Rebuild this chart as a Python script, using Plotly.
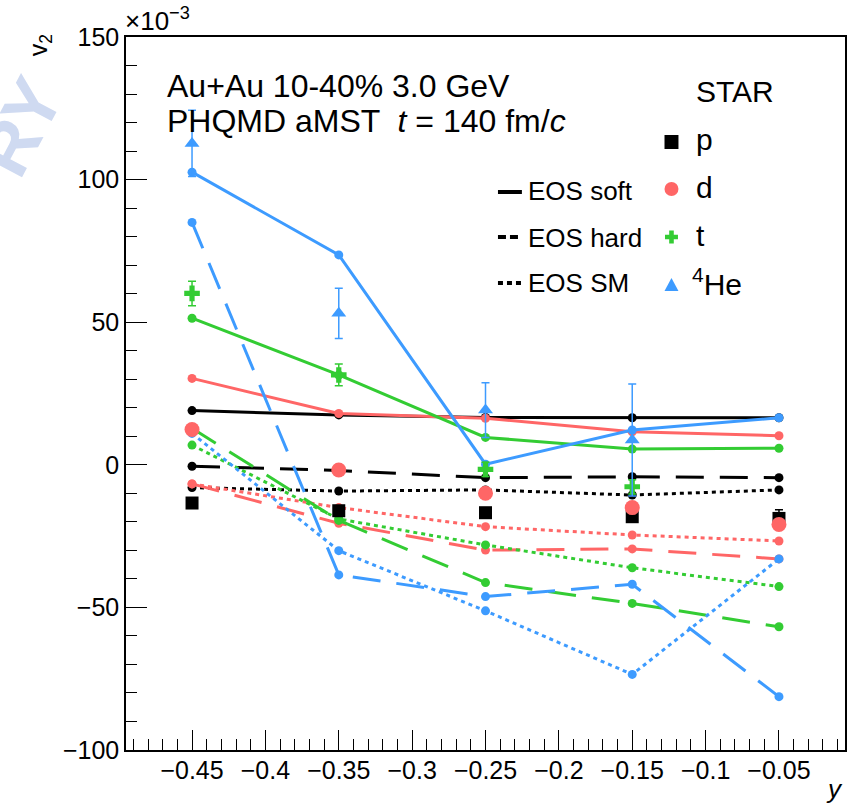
import plotly.graph_objects as go

# ---------------- data (v2 in units of 1e-3) ----------------
rap = [-0.45, -0.35, -0.25, -0.15, -0.05]

# PHQMD aMST model curves
p_soft = [19.0, 17.5, 16.6, 16.5, 16.5]
p_hard = [-0.5, -2.0, -4.5, -4.2, -4.5]
p_sm = [-8.0, -9.2, -8.8, -10.6, -8.8]
d_soft = [30.3, 18.0, 16.3, 11.6, 10.2]
d_hard = [-6.7, -20.5, -29.9, -29.5, -33.0]
d_sm = [-6.7, -15.0, -21.7, -24.6, -26.7]
t_soft = [51.4, 31.5, 9.6, 5.5, 5.8]
t_hard = [12.8, -19.5, -41.3, -48.6, -56.8]
t_sm = [6.9, -19.0, -28.1, -36.1, -42.7]
he_soft = [102.6, 73.6, 0.2, 12.2, 16.5]
he_hard = [85.0, -38.6, -46.2, -41.9, -81.3]
he_sm = [11.0, -30.1, -51.2, -73.5, -33.0]

# STAR data
star_p = [-13.4, -16.1, -16.8, -18.2, -18.8]
star_p_err = [1.0, 1.0, 1.0, 1.0, 3.0]
star_d = [12.4, -1.8, -10.0, -15.0, -20.9]
star_d_err = [1.5, 1.5, 1.5, 1.5, 1.5]
rap_t = [-0.45, -0.35, -0.25, -0.15]
star_t = [60.1, 31.5, -1.6, -7.7]
star_t_err = [4.3, 3.8, 2.5, 2.5]
rap_he = [-0.45, -0.35, -0.25, -0.15]
star_he = [112.7, 53.1, 19.2, 8.7]
star_he_err = [11.6, 8.8, 9.6, 19.6]

BLACK = "#000000"
RED = "#ff6666"
GREEN = "#33cc33"
BLUE = "#3d9bff"
FONT = "Liberation Sans, Arial, Helvetica, sans-serif"

DASHED = "28px,16px"
DOTTED = "4px,4px"

fig = go.Figure()

models = [
    (p_soft, BLACK, "solid"), (p_hard, BLACK, DASHED), (p_sm, BLACK, DOTTED),
    (d_soft, RED, "solid"), (d_hard, RED, DASHED), (d_sm, RED, DOTTED),
    (t_soft, GREEN, "solid"), (t_hard, GREEN, DASHED), (t_sm, GREEN, DOTTED),
    (he_soft, BLUE, "solid"), (he_hard, BLUE, DASHED), (he_sm, BLUE, DOTTED),
]
for vals, col, dash in models:
    fig.add_trace(go.Scatter(
        x=rap, y=vals, mode="lines+markers",
        line=dict(color=col, width=3, dash=dash),
        marker=dict(color=col, size=9, symbol="circle"),
        showlegend=False, hoverinfo="skip"))

def star(x, y, err, col, sym, size):
    fig.add_trace(go.Scatter(
        x=x, y=y, mode="markers",
        marker=dict(color=col, size=size, symbol=sym, line=dict(width=0)),
        error_y=dict(type="data", array=err, color=col, thickness=1.5, width=4),
        showlegend=False, hoverinfo="skip"))

star(rap, star_p, star_p_err, BLACK, "square", 13)
star(rap, star_d, star_d_err, RED, "circle", 15)
star(rap_t, star_t, star_t_err, GREEN, "cross", 13)
star(rap_he, star_he, star_he_err, BLUE, "triangle-up", 13)

# ---------------- layout helpers (pixel -> paper) ----------------
L, R, T, B = 126, 847, 37, 750
W, H = 852, 806
def xp(px):
    return (px - L) / (R - L)
def yp(py):
    return (B - py) / (B - T)

annotations = []
def txt(text, px, py, size, xanchor="left", yanchor="middle", angle=0, color="black", bold=False):
    annotations.append(dict(
        text=text, x=xp(px), y=yp(py), xref="paper", yref="paper",
        xanchor=xanchor, yanchor=yanchor, showarrow=False, textangle=angle,
        font=dict(family=FONT, size=size, color=color,
                  weight="bold" if bold else "normal")))

txt("Au+Au 10-40% 3.0 GeV", 165, 86, 32)
txt("PHQMD aMST  <i>t</i> = 140 fm/<i>c</i>", 165, 121, 32)
txt("STAR", 696, 92, 30)
txt("p", 696, 140, 30)
txt("d", 696, 187, 30)
txt("t", 696, 235, 30)
txt("<sup>4</sup>He", 692, 282, 30)
txt("EOS soft", 527, 191, 26)
txt("EOS hard", 527, 238, 26)
txt("EOS SM", 527, 283, 26)
txt("×10<sup>−3</sup>", 123, 38, 26, yanchor="bottom")
txt("v<sub>2</sub>", 40, 45, 25, xanchor="center", angle=-90)
txt("<i>y</i>", 847, 789, 26, xanchor="right")
txt("RY", 20, 127, 72, xanchor="center", angle=-62, color="#cfdaf1", bold=True)

shapes = []
def hline(x0, x1, y, dash):
    shapes.append(dict(type="line", xref="paper", yref="paper",
                       x0=xp(x0), x1=xp(x1), y0=yp(y), y1=yp(y),
                       line=dict(color="black", width=4, dash=dash)))
hline(499, 523, 192, "solid")
hline(499, 523, 237, "8px,4px")
hline(499, 523, 283, "5px,4px")

cx = 673
shapes.append(dict(type="rect", xref="paper", yref="paper",
                   x0=xp(cx - 7), x1=xp(cx + 7), y0=yp(142 - 7), y1=yp(142 + 7),
                   fillcolor=BLACK, line=dict(width=0)))
shapes.append(dict(type="circle", xref="paper", yref="paper",
                   x0=xp(cx - 7), x1=xp(cx + 7), y0=yp(189 - 7), y1=yp(189 + 7),
                   fillcolor=RED, line=dict(width=0)))
def path(points):
    return "M " + " L ".join(f"{xp(a):.5f},{yp(b):.5f}" for a, b in points) + " Z"
a, w, cy = 6.5, 2.3, 237
cross_pts = [(cx - w, cy - a), (cx + w, cy - a), (cx + w, cy - w), (cx + a, cy - w),
             (cx + a, cy + w), (cx + w, cy + w), (cx + w, cy + a), (cx - w, cy + a),
             (cx - w, cy + w), (cx - a, cy + w), (cx - a, cy - w), (cx - w, cy - w)]
shapes.append(dict(type="path", xref="paper", yref="paper", path=path(cross_pts),
                   fillcolor=GREEN, line=dict(width=0)))
ty = 285
shapes.append(dict(type="path", xref="paper", yref="paper",
                   path=path([(cx, ty - 7), (cx + 7, ty + 6), (cx - 7, ty + 6)]),
                   fillcolor=BLUE, line=dict(width=0)))

fig.update_layout(
    width=W, height=H,
    margin=dict(l=L, r=W - R, t=T, b=H - B, pad=0),
    paper_bgcolor="white", plot_bgcolor="white",
    annotations=annotations, shapes=shapes,
    showlegend=False,
    font=dict(family=FONT, color="black"),
)
fig.update_xaxes(
    range=[-0.495, -0.005], tick0=-0.45, dtick=0.05,
    ticks="inside", ticklen=20, tickwidth=1, tickcolor="black",
    minor=dict(dtick=0.01, ticks="inside", ticklen=11, tickwidth=1, tickcolor="black"),
    showline=True, mirror=True, linecolor="black", linewidth=1.5,
    showgrid=False, zeroline=False, ticklabelstandoff=-3,
    tickfont=dict(family=FONT, size=25, color="black"),
)
fig.update_yaxes(
    range=[-100, 150], tick0=0, dtick=50,
    ticks="inside", ticklen=21, tickwidth=1, tickcolor="black",
    minor=dict(dtick=10, ticks="inside", ticklen=11, tickwidth=1, tickcolor="black"),
    showline=True, mirror=True, linecolor="black", linewidth=1.5,
    showgrid=False, zeroline=False,
    tickfont=dict(family=FONT, size=25, color="black"),
)

fig.write_html("out.html")
